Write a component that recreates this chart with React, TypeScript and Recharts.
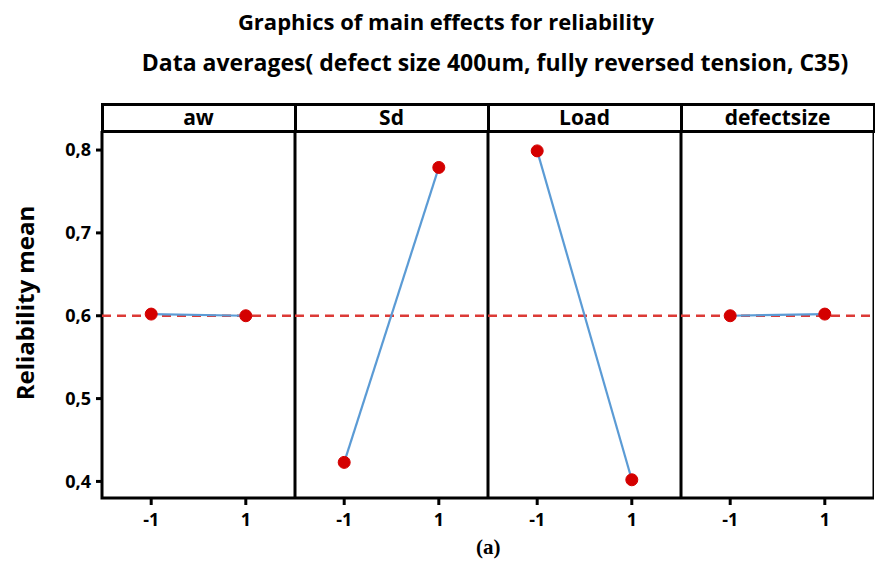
import React from 'react';
import { LineChart, Line, XAxis, YAxis, ReferenceLine, ReferenceArea } from 'recharts';

const factors = ['aw', 'Sd', 'Load', 'defectsize'];
const levels = [-1, 1];
const meansAw = [0.602, 0.6];
const meansSd = [0.423, 0.779];
const meansLoad = [0.799, 0.402];
const meansDefect = [0.6, 0.602];
const yTicks = [0.4, 0.5, 0.6, 0.7, 0.8];
const overallMean = 0.6;

const allMeans = [meansAw, meansSd, meansLoad, meansDefect];

const FONT = '"Open Sans", "Noto Sans", sans-serif';
const PANEL_W = 193;
const PLOT_LEFT = 102;
const PLOT_TOP = 131;
const PLOT_H = 367;
const X_AXIS_H = 44;
const Y_AXIS_W = 90;
const X_DOMAIN: [number, number] = [-2.04, 2.04];
const Y_DOMAIN: [number, number] = [0.38, 0.823];

const yTickStyle = { fontFamily: FONT, fontWeight: 700, fontSize: 18, fill: '#000' };
const xTickStyle = { fontFamily: FONT, fontWeight: 700, fontSize: 18, fill: '#000' };

const Panel: React.FC<{ index: number }> = ({ index }) => {
  const first = index === 0;
  const data = levels.map((lv, i) => ({ level: lv, mean: allMeans[index][i] }));
  const width = PANEL_W + (first ? Y_AXIS_W : 0);
  const left = PLOT_LEFT + PANEL_W * index - (first ? Y_AXIS_W : 0);
  return (
    <div style={{ position: 'absolute', left, top: PLOT_TOP }}>
      <LineChart width={width} height={PLOT_H + X_AXIS_H} data={data} margin={{ top: 0, right: 0, bottom: 0, left: 0 }}>
        <XAxis
          dataKey="level"
          type="number"
          domain={X_DOMAIN}
          ticks={levels}
          allowDataOverflow
          height={X_AXIS_H}
          axisLine={false}
          tickLine={{ stroke: '#000', strokeWidth: 3 }}
          tickSize={7}
          tickMargin={8}
          tick={xTickStyle}
        />
        <YAxis
          type="number"
          domain={Y_DOMAIN}
          ticks={yTicks}
          allowDataOverflow
          hide={!first}
          width={first ? Y_AXIS_W : 0}
          axisLine={false}
          tickLine={{ stroke: '#000', strokeWidth: 3 }}
          tickSize={6}
          tickMargin={5}
          tick={yTickStyle}
          tickFormatter={(v: number) => v.toFixed(1).replace('.', ',')}
        />
        <ReferenceArea
          x1={X_DOMAIN[0]}
          x2={X_DOMAIN[1]}
          y1={Y_DOMAIN[0]}
          y2={Y_DOMAIN[1]}
          fill="none"
          stroke="#000"
          strokeWidth={3}
        />
        <ReferenceLine y={overallMean} stroke="#dc3a36" strokeWidth={2.5} strokeDasharray="9 6" />
        <Line
          dataKey="mean"
          stroke="#5b9bd5"
          strokeWidth={2.2}
          isAnimationActive={false}
          dot={{ r: 6, fill: '#d40000', stroke: '#d40000', strokeWidth: 1 }}
        />
      </LineChart>
    </div>
  );
};

export default function App() {
  return (
    <div style={{ position: 'absolute', left: 0, top: 0, width: 875, height: 568, background: '#fff', fontFamily: FONT, overflow: 'hidden' }}>
      <div style={{ position: 'absolute', left: 0, width: 892, top: 6, textAlign: 'center', fontSize: 22, fontWeight: 700, lineHeight: '30px' }}>
        Graphics of main effects for reliability
      </div>
      <div style={{ position: 'absolute', left: 0, width: 990, top: 47, textAlign: 'center', fontSize: 23, fontWeight: 700, lineHeight: '30px' }}>
        Data averages( defect size 400um, fully reversed tension, C35)
      </div>
      {factors.map((f, i) => (
        <div
          key={f}
          style={{
            position: 'absolute',
            left: PLOT_LEFT + PANEL_W * i - 1.5,
            top: 103,
            width: PANEL_W + 3,
            height: 30,
            border: '3px solid #000',
            boxSizing: 'border-box',
            textAlign: 'center',
            fontSize: 21,
            fontWeight: 700,
            lineHeight: '22px',
          }}
        >
          {f}
        </div>
      ))}
      {factors.map((f, i) => (
        <Panel key={f} index={i} />
      ))}
      <div
        style={{
          position: 'absolute',
          left: 24,
          top: 303,
          transform: 'translate(-50%, -50%) rotate(-90deg)',
          whiteSpace: 'nowrap',
          fontSize: 24,
          fontWeight: 700,
        }}
      >
        Reliability mean
      </div>
      <div
        style={{
          position: 'absolute',
          left: 476,
          top: 535,
          fontFamily: '"Liberation Serif", "Times New Roman", serif',
          fontSize: 21,
          fontWeight: 700,
        }}
      >
        (a)
      </div>
    </div>
  );
}
